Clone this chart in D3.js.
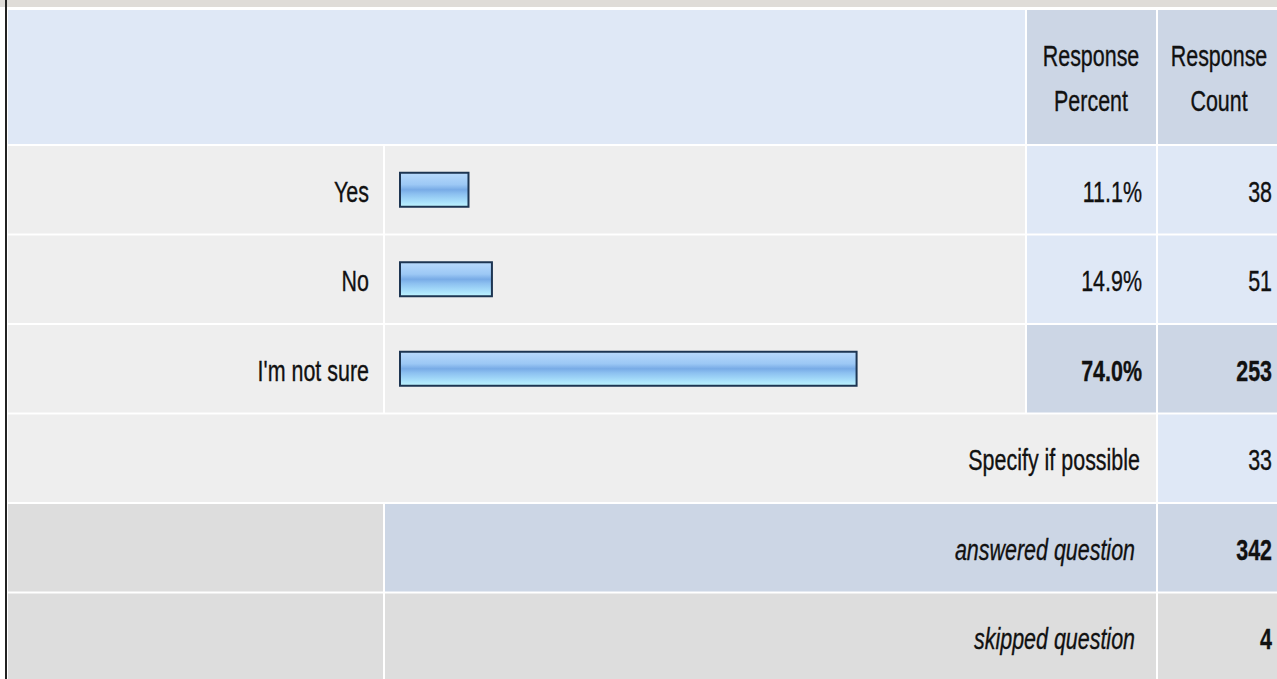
<!DOCTYPE html>
<html>
<head>
<meta charset="utf-8">
<script src="https://d3js.org/d3.v7.min.js"></script>
<style>
  html, body { margin: 0; padding: 0; background: #ffffff; }
  svg { display: block; }
  text { font-family: "Liberation Sans", Arial, sans-serif; font-size: 29px; fill: #111111; stroke: #111111; stroke-width: 0.35px; }
</style>
</head>
<body>
<script>
// chart data
var categories = ["Yes", "No", "I'm not sure"];
var percents = [11.1, 14.9, 74.0];
var counts = [38, 51, 253];
var headerLines = [["Response", "Percent"], ["Response", "Count"]];
var footerLabels = ["Specify if possible", "answered question", "skipped question"];
var footerCounts = [33, 342, 4];

// narrow text: Arial squeezed sideways like the screenshot's font
function label(parent, x, y, str, anchor) {
    return parent.append("g")
        .attr("transform", "translate(" + x + "," + y + ") scale(0.74,1)")
        .append("text")
        .attr("text-anchor", anchor || "end")
        .text(str);
}

function draw() {
    var width = 1277;
    var height = 679;

    var lightBlue = "#dfe8f6";
    var midBlue = "#ccd6e5";
    var lightGray = "#eeeeee";
    var midGray = "#dddddd";

    // column edges
    var colLeft = [8, 385, 1027, 1158];
    var colRight = [383, 1025, 1156, 1292];

    const svg = d3.select("body").append("svg")
        .attr("id", "graph")
        .attr("width", width)
        .attr("height", height);

    const defs = svg.append("defs");
    const grad = defs.append("linearGradient")
        .attr("id", "barGrad")
        .attr("x1", 0).attr("y1", 0).attr("x2", 0).attr("y2", 1);
    [["0%", "#b9dafc"], ["35%", "#9cc8f5"], ["50%", "#78abe6"], ["62%", "#8cc0f0"], ["85%", "#a9e0fb"], ["100%", "#bff6ff"]]
        .forEach(function(s) {
            grad.append("stop").attr("offset", s[0]).attr("stop-color", s[1]);
        });

    // top strip and left frame line
    svg.append("rect").attr("x", 0).attr("y", 0).attr("width", width).attr("height", 7).attr("fill", "#dfdcd8");
    svg.append("rect").attr("x", 5).attr("y", 0).attr("width", 2).attr("height", height).attr("fill", "#222222");

    // rows below header
    var rowNames = categories.concat(footerLabels);
    const y = d3.scaleBand()
        .domain(rowNames)
        .range([145, 682]);

    // bar scale
    const x = d3.scaleLinear()
        .domain([0, 100])
        .range([400, 1017]);

    // header
    const header = svg.append("g");
    header.append("rect").attr("x", colLeft[0]).attr("y", 10)
        .attr("width", colRight[1] - colLeft[0]).attr("height", 134).attr("fill", lightBlue);
    headerLines.forEach(function(lines, i) {
        var c = i + 2;
        header.append("rect").attr("x", colLeft[c]).attr("y", 10)
            .attr("width", colRight[c] - colLeft[c]).attr("height", 134).attr("fill", midBlue);
        var cx = c === 2 ? 1091 : 1219;
        lines.forEach(function(l, j) {
            label(header, cx, 66 + j * 45, l, "middle");
        });
    });

    var maxIdx = d3.maxIndex(percents);

    // answer rows
    const rows = svg.append("g")
        .selectAll("g")
        .data(categories)
        .join("g")
        .attr("transform", d => "translate(0," + y(d) + ")");

    var h = y.bandwidth();
    var base = h / 2 + 12;
    rows.append("rect").attr("x", colLeft[0]).attr("y", 1).attr("width", colRight[0] - colLeft[0]).attr("height", h - 2).attr("fill", lightGray);
    rows.append("rect").attr("x", colLeft[1]).attr("y", 1).attr("width", colRight[1] - colLeft[1]).attr("height", h - 2).attr("fill", lightGray);
    rows.append("rect").attr("x", colLeft[2]).attr("y", 1).attr("width", colRight[2] - colLeft[2]).attr("height", h - 2)
        .attr("fill", (d, i) => i === maxIdx ? midBlue : lightBlue);
    rows.append("rect").attr("x", colLeft[3]).attr("y", 1).attr("width", colRight[3] - colLeft[3]).attr("height", h - 2)
        .attr("fill", (d, i) => i === maxIdx ? midBlue : lightBlue);

    rows.each(function(d, i) {
        var g = d3.select(this);
        label(g, 369, base, d);
        label(g, 1142, base, percents[i].toFixed(1) + "%")
            .attr("font-weight", i === maxIdx ? "bold" : null);
        label(g, 1272, base, counts[i])
            .attr("font-weight", i === maxIdx ? "bold" : null);
    });

    rows.append("rect")
        .attr("x", x(0))
        .attr("y", h / 2 - 17)
        .attr("width", (d, i) => x(percents[i]) - x(0))
        .attr("height", 34)
        .attr("fill", "url(#barGrad)")
        .attr("stroke", "#1d3552")
        .attr("stroke-width", 2);

    // footer rows
    const foot = svg.append("g");
    var ySpec = y(footerLabels[0]);
    foot.append("rect").attr("x", colLeft[0]).attr("y", ySpec + 1).attr("width", colRight[2] - colLeft[0]).attr("height", h - 2).attr("fill", lightGray);
    foot.append("rect").attr("x", colLeft[3]).attr("y", ySpec + 1).attr("width", colRight[3] - colLeft[3]).attr("height", h - 2).attr("fill", lightBlue);

    var yAns = y(footerLabels[1]);
    foot.append("rect").attr("x", colLeft[0]).attr("y", yAns + 1).attr("width", colRight[0] - colLeft[0]).attr("height", h - 2).attr("fill", midGray);
    foot.append("rect").attr("x", colLeft[1]).attr("y", yAns + 1).attr("width", colRight[2] - colLeft[1]).attr("height", h - 2).attr("fill", midBlue);
    foot.append("rect").attr("x", colLeft[3]).attr("y", yAns + 1).attr("width", colRight[3] - colLeft[3]).attr("height", h - 2).attr("fill", midBlue);

    var ySkip = y(footerLabels[2]);
    foot.append("rect").attr("x", colLeft[0]).attr("y", ySkip + 1).attr("width", colRight[0] - colLeft[0]).attr("height", h).attr("fill", midGray);
    foot.append("rect").attr("x", colLeft[1]).attr("y", ySkip + 1).attr("width", colRight[2] - colLeft[1]).attr("height", h).attr("fill", midGray);
    foot.append("rect").attr("x", colLeft[3]).attr("y", ySkip + 1).attr("width", colRight[3] - colLeft[3]).attr("height", h).attr("fill", midGray);

    footerLabels.forEach(function(l, i) {
        var yy = y(l) + base;
        label(foot, i === 0 ? 1140 : 1135, yy, l)
            .attr("font-style", i === 0 ? null : "italic");
        label(foot, 1272, yy, footerCounts[i])
            .attr("font-weight", i === 0 ? null : "bold");
    });
}

draw();
</script>
</body>
</html>
